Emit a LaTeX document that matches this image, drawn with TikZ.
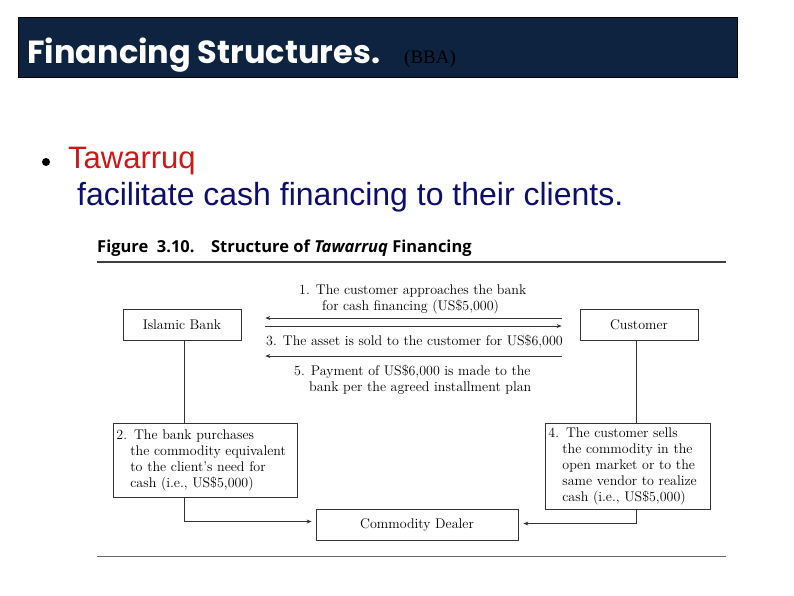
\documentclass[tikz,border=0pt]{standalone}
\usepackage{fontspec}
\usepackage{xcolor}
\usepackage{tikz}
\usetikzlibrary{calc, arrows.meta}

\newfontfamily\titlefont{Poppins}
\newfontfamily\arialfont{Liberation Sans}
\newfontfamily\timesfont{Liberation Serif}
\newfontfamily\figfont{Open Sans}
\definecolor{titlebg}{RGB}{13,35,64}
\definecolor{tawred}{RGB}{206,24,24}
\definecolor{navytext}{RGB}{14,14,110}

\begin{document}
\begin{tikzpicture}[x=1pt, y=-1pt, >={Stealth[length=5pt, width=4pt]},
    box/.style={draw=black!80, line width=0.8pt, minimum width=118pt, minimum height=31pt, inner sep=0pt, font=\fontsize{14}{16}\selectfont},
    stepbox/.style={draw=black!80, line width=0.8pt, anchor=north west, align=left, inner xsep=3pt, inner ysep=0pt, font=\fontsize{14}{16}\selectfont},
    lbl/.style={align=left, inner sep=0pt, font=\fontsize{14}{16}\selectfont},
    link/.style={draw=black!80, line width=0.8pt}]
    \useasboundingbox[fill=white] (0,0) rectangle (794,595);
    \node[draw=black, fill=titlebg, anchor=north west, minimum width=719pt, minimum height=60pt, inner sep=0pt] (bar) at (18,17) {};
    \node[anchor=base west, inner sep=0pt, text=white, font=\titlefont\bfseries\fontsize{32}{36}\selectfont] (title) at (27,63) {Financing Structures.};
    \node[anchor=base west, inner sep=0pt, font=\timesfont\fontsize{19}{22}\selectfont] (bba) at (404,63) {(BBA)};
    \node[circle, fill, inner sep=0pt, minimum size=8pt] (dot) at (46,162) {};
    \node[anchor=base west, inner sep=0pt, text=tawred, font=\arialfont\fontsize{31}{34}\selectfont] (term) at (68,168) {Tawarruq};
    \node[anchor=base west, inner sep=0pt, text=navytext, font=\arialfont\fontsize{32}{34}\selectfont] (desc) at (77,205) {facilitate cash financing to their clients.};
    \node[anchor=base west, inner sep=0pt, font=\figfont\bfseries\fontsize{16.5}{18}\selectfont] (cap) at (97,252) {Figure\ \ 3.10.\hspace{1em}Structure of \textit{Tawarruq} Financing};
    \draw[line width=1.3pt, black!75] (97,262) -- (726,262);
    \draw[line width=0.8pt, black!60] (97,556) -- (726,556);

    \node[box] (bank) at (182,325) {Islamic Bank};
    \node[box] (cust) at (639,325) {Customer};
    \node[box, minimum width=202pt] (dealer) at (417,524.5) {Commodity Dealer};
    \node[stepbox, text width=178pt, minimum height=74pt] (buy) at (113,423) {2. The bank purchases\\\hspace*{14pt}the commodity equivalent\\\hspace*{14pt}to the client’s need for\\\hspace*{14pt}cash (i.e., US\$5,000)};
    \node[stepbox, text width=159pt, minimum height=86pt] (sell) at (545,423) {4. The customer sells\\\hspace*{14pt}the commodity in the\\\hspace*{14pt}open market or to the\\\hspace*{14pt}same vendor to realize\\\hspace*{14pt}cash (i.e., US\$5,000)};

    \node[lbl, anchor=west] (s1) at (299,299) {1. The customer approaches the bank\\\hspace*{23pt}for cash financing (US\$5,000)};
    \node[lbl] (s3) at (414.5,342) {3. The asset is sold to the customer for US\$6,000};
    \node[lbl, anchor=west] (s5) at (294,379.5) {5. Payment of US\$6,000 is made to the\\\hspace*{15pt}bank per the agreed installment plan};

    \draw[link, ->] ([xshift=-18pt, yshift=7pt]cust.west) -- ([xshift=24pt, yshift=7pt]bank.east);
    \draw[link, ->] ([xshift=24pt, yshift=-1pt]bank.east) -- ([xshift=-18pt, yshift=-1pt]cust.west);
    \draw[link, ->] ([xshift=-18pt, yshift=-31pt]cust.west) -- ([xshift=24pt, yshift=-31pt]bank.east);
    \draw[link] ([xshift=2pt]bank.south) -- ([xshift=2pt]bank.south |- buy.north);
    \draw[link, ->] ([xshift=2pt]bank.south |- buy.south) |- ([xshift=-4pt, yshift=3pt]dealer.west);
    \draw[link] ([xshift=-3pt]cust.south) -- ([xshift=-3pt]cust.south |- sell.north);
    \draw[link, ->] ([xshift=-3pt]cust.south |- sell.south) |- ([xshift=5pt, yshift=1pt]dealer.east);
\end{tikzpicture}
\end{document}
